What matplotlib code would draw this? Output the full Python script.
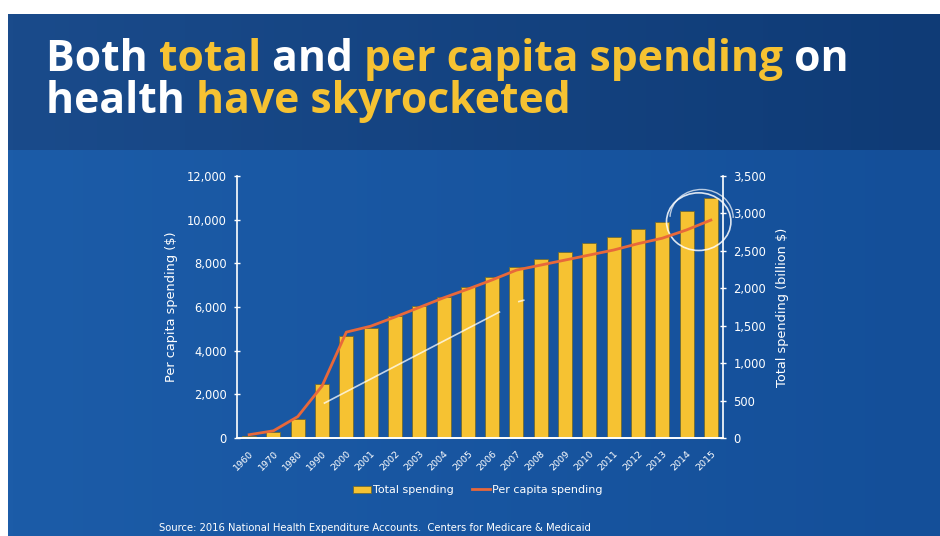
import matplotlib
matplotlib.use("Agg")
import numpy as np
import matplotlib.pyplot as plt
from matplotlib.colors import to_rgb
from matplotlib.patches import Ellipse, Arc, Patch
from matplotlib.lines import Line2D
from matplotlib.ticker import FuncFormatter, MultipleLocator

# Dados (gasto nacional com saude)
anos = ["1960", "1970", "1980", "1990", "2000", "2001", "2002", "2003", "2004",
        "2005", "2006", "2007", "2008", "2009", "2010", "2011", "2012", "2013",
        "2014", "2015"]
# gasto total, bilhoes de $ (eixo direito)
gasto_total = [27, 78, 253, 715, 1366, 1465, 1630, 1758, 1890, 2018, 2150, 2289,
               2396, 2489, 2601, 2681, 2792, 2881, 3033, 3202]
# gasto per capita, $ (eixo esquerdo)
gasto_per_capita = [150, 330, 980, 2380, 4850, 5120, 5540, 5980, 6420, 6820, 7240,
                    7690, 7920, 8150, 8380, 8610, 8900, 9150, 9530, 9980]

titulo_linha1 = [("Both ", "white"), ("total", "amarelo"), (" and ", "white"),
                 ("per capita spending", "amarelo"), (" on", "white")]
titulo_linha2 = [("health ", "white"), ("have skyrocketed", "amarelo")]
fonte_dados = "Source: 2016 National Health Expenditure Accounts.  Centers for Medicare & Medicaid"

AMARELO = "#f6c232"
LARANJA = "#e8683a"
W, H = 940, 536

plt.rcParams['font.family'] = ['DejaVu Sans']
FONTE_TITULO = ['Open Sans', 'DejaVu Sans']

fig = plt.figure(figsize=(W / 100, H / 100), dpi=100, facecolor="white")


def fx(px):
    return px / W


def fy(py):
    return 1 - py / H


def degrade(esq, dir, n=200):
    a, b = np.array(to_rgb(esq)), np.array(to_rgb(dir))
    t = np.linspace(0, 1, n)[:, None]
    return (a + (b - a) * t)[None, :, :]


# Fundo do slide: faixa do titulo e painel do grafico (com leve degrade)
fundo_titulo = fig.add_axes([fx(8), fy(150), 1 - fx(8), fy(14) - fy(150)], zorder=-2)
fundo_titulo.imshow(degrade("#1a4b8b", "#0f3b76"), aspect="auto", extent=(0, 1, 0, 1))
fundo_titulo.axis("off")
fundo_painel = fig.add_axes([fx(8), 0, 1 - fx(8), fy(150)], zorder=-2)
fundo_painel.imshow(degrade("#1c5ca8", "#144f99"), aspect="auto", extent=(0, 1, 0, 1))
fundo_painel.axis("off")

renderer = fig.canvas.get_renderer()


def largura(texto, tam):
    t = fig.text(0, 0, texto, fontsize=tam, fontweight="bold", family=FONTE_TITULO)
    w = t.get_window_extent(renderer).width
    t.remove()
    return w


def linha_titulo(partes, x_px, y_px, tam):
    anterior = ""
    for trecho, cor in partes:
        dx = 0
        if anterior:
            dx = largura(anterior + "l", tam) - largura("l", tam)
        fig.text(fx(x_px + dx), fy(y_px), trecho, fontsize=tam, fontweight="bold",
                 family=FONTE_TITULO, color=AMARELO if cor == "amarelo" else cor,
                 va="baseline", ha="left")
        anterior += trecho


# tamanho do titulo ajustado para a largura da primeira linha
texto1 = "".join(p for p, _ in titulo_linha1)
tam_titulo = 26 * 804 / largura(texto1, 26)
linha_titulo(titulo_linha1, 46, 71, tam_titulo)
linha_titulo(titulo_linha2, 46, 113, tam_titulo)

# Eixos
ax = fig.add_axes([fx(237), fy(438), fx(723) - fx(237), fy(176) - fy(438)])
ax2 = ax.twinx()
ax.set_zorder(ax2.get_zorder() + 1)
ax.patch.set_visible(False)
ax2.patch.set_visible(False)

x = list(range(len(anos)))
ax2.bar(x, gasto_total, width=0.58, color=AMARELO, edgecolor="#6f6b35", linewidth=0.6,
        zorder=2)
ax.plot(x, gasto_per_capita, color=LARANJA, linewidth=2, zorder=3)

ax.set_xlim(-0.5, len(anos) - 0.5)
ax.set_ylim(0, 12000)
ax2.set_ylim(0, 3500)
ax.yaxis.set_major_locator(MultipleLocator(2000))
ax2.yaxis.set_major_locator(MultipleLocator(500))
milhar = FuncFormatter(lambda v, p: f"{int(v):,}")
ax.yaxis.set_major_formatter(milhar)
ax2.yaxis.set_major_formatter(milhar)

for a in (ax, ax2):
    a.spines["top"].set_visible(False)
    for lado in ("left", "right", "bottom"):
        a.spines[lado].set_color("white")
        a.spines[lado].set_linewidth(1.2)
    a.tick_params(axis="y", colors="white", direction="inout", length=5, width=1,
                  labelsize=8.3, pad=5)
ax.spines["right"].set_visible(False)
ax2.spines["left"].set_visible(False)

ax.set_xticks(x)
ax.set_xticklabels(anos, rotation=45, ha="right", rotation_mode="anchor", fontsize=6.8,
                   color="white")
ax.tick_params(axis="x", length=0, pad=8)

ax.set_ylabel("Per capita spending ($)", color="white", fontsize=9.3, labelpad=6)
ax2.set_ylabel("Total spending (billion $)", color="white", fontsize=9.3, labelpad=7)

# marcacoes feitas a mao sobre o grafico
ax.plot([3.1, 10.3], [1600, 5770], color="white", linewidth=1.2, alpha=0.75, zorder=4)
ax.plot([11.1, 11.3], [6250, 6310], color="white", linewidth=1.2, alpha=0.75, zorder=4)
ax2.add_patch(Ellipse((18.5, 2890), 2.65, 770, fill=False, edgecolor="white",
                      linewidth=1.2, alpha=0.85, clip_on=False, zorder=5))
ax2.add_patch(Arc((18.62, 2940), 2.6, 760, theta1=15, theta2=95, edgecolor="white",
                  linewidth=1.0, alpha=0.7, clip_on=False, zorder=5))

# Legenda
alcas = [Patch(facecolor=AMARELO, edgecolor="#6f6b35", linewidth=0.6),
         Line2D([0], [0], color=LARANJA, linewidth=2)]
fig.legend(alcas, ["Total spending", "Per capita spending"], loc="center",
           bbox_to_anchor=(fx(478), fy(490)), ncol=2, frameon=False, fontsize=8,
           labelcolor="white", handlelength=1.6, handleheight=0.6, columnspacing=1.6,
           handletextpad=0.2)

fig.text(fx(159), fy(531), fonte_dados, fontsize=7.2, color="white", va="baseline")

fig.savefig("out.png", dpi=100, facecolor=fig.get_facecolor())
